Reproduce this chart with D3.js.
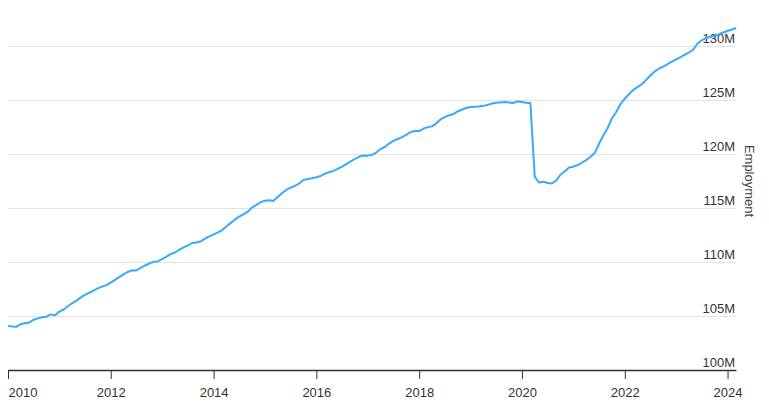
<!DOCTYPE html>
<html>
<head>
<meta charset="utf-8">
<script src="https://cdn.jsdelivr.net/npm/d3@7"></script>
<style>
  body { margin: 0; background: #fff; }
  svg { display: block; font-family: "Liberation Sans", Arial, Helvetica, sans-serif; }
</style>
</head>
<body>
<svg id="chart" width="769" height="415"></svg>
<script>
// monthly employment, millions (Jan..Dec)
const emp2010 = [104.07, 104.02, 104.00, 104.25, 104.33, 104.40, 104.65, 104.78, 104.88, 104.94, 105.15, 105.06];
const emp2011 = [105.42, 105.60, 105.88, 106.18, 106.40, 106.70, 106.95, 107.15, 107.36, 107.56, 107.72, 107.86];
const emp2012 = [108.10, 108.35, 108.60, 108.86, 109.08, 109.23, 109.22, 109.45, 109.68, 109.86, 110.03, 110.05];
const emp2013 = [110.28, 110.50, 110.73, 110.88, 111.12, 111.35, 111.52, 111.76, 111.80, 111.90, 112.16, 112.38];
const emp2014 = [112.56, 112.74, 112.93, 113.28, 113.60, 113.92, 114.20, 114.42, 114.66, 115.05, 115.30, 115.55];
const emp2015 = [115.68, 115.71, 115.65, 116.02, 116.36, 116.67, 116.88, 117.04, 117.27, 117.59, 117.69, 117.75];
const emp2016 = [117.85, 117.97, 118.17, 118.32, 118.43, 118.63, 118.84, 119.07, 119.31, 119.54, 119.77, 119.87];
const emp2017 = [119.85, 119.93, 120.14, 120.46, 120.65, 120.97, 121.22, 121.39, 121.57, 121.78, 122.04, 122.13];
const emp2018 = [122.13, 122.36, 122.47, 122.56, 122.82, 123.19, 123.43, 123.58, 123.70, 123.94, 124.12, 124.26];
const emp2019 = [124.35, 124.38, 124.41, 124.46, 124.54, 124.67, 124.74, 124.78, 124.81, 124.77, 124.72, 124.87];
const emp2020 = [124.81, 124.75, 124.70, 117.90, 117.36, 117.44, 117.31, 117.28, 117.55, 118.10, 118.40, 118.75];
const emp2021 = [118.83, 118.98, 119.19, 119.44, 119.72, 120.09, 120.93, 121.71, 122.41, 123.29, 123.89, 124.63];
const emp2022 = [125.14, 125.56, 125.93, 126.20, 126.46, 126.85, 127.27, 127.64, 127.92, 128.10, 128.33, 128.56];
const emp2023 = [128.77, 128.98, 129.19, 129.40, 129.65, 130.23, 130.53, 130.74, 130.83, 130.97, 131.09, 131.25];
const emp2024 = [131.39, 131.53, 131.67];

const years = [2010, 2011, 2012, 2013, 2014, 2015, 2016, 2017, 2018, 2019, 2020, 2021, 2022, 2023, 2024];
const yearly = [emp2010, emp2011, emp2012, emp2013, emp2014, emp2015, emp2016, emp2017, emp2018, emp2019, emp2020, emp2021, emp2022, emp2023, emp2024];

const xTickYears = [2010, 2012, 2014, 2016, 2018, 2020, 2022, 2024];
const yTicks = [100, 105, 110, 115, 120, 125, 130]; // millions

const data = [];
yearly.forEach((vals, i) => {
  vals.forEach((v, m) => data.push({ date: new Date(years[i], m, 1), value: v * 1e6 }));
});

const svg = d3.select('#chart');
const width = +svg.attr('width');
const height = +svg.attr('height');
const margin = { top: 28, right: 33, bottom: 45, left: 8 };

const x = d3.scaleTime()
  .domain(d3.extent(data, d => d.date))
  .range([margin.left, width - margin.right]);

const y = d3.scaleLinear()
  .domain([100e6, d3.max(data, d => d.value)])
  .range([height - margin.bottom, margin.top]);

// gridlines + y labels
const gy = svg.append('g');
gy.selectAll('line')
  .data(yTicks.slice(1))
  .join('line')
  .attr('x1', margin.left)
  .attr('x2', width - margin.right)
  .attr('y1', d => Math.round(y(d * 1e6)) + 0.5)
  .attr('y2', d => Math.round(y(d * 1e6)) + 0.5)
  .attr('stroke', '#e3e3e3');

gy.selectAll('text')
  .data(yTicks)
  .join('text')
  .attr('x', width - margin.right - 1)
  .attr('y', d => y(d * 1e6) - 3)
  .attr('text-anchor', 'end')
  .attr('font-size', 13)
  .attr('fill', '#333')
  .text(d => d + 'M');

// line
svg.append('path')
  .datum(data)
  .attr('fill', 'none')
  .attr('stroke', '#35aaff')
  .attr('stroke-width', 2)
  .attr('stroke-linejoin', 'round')
  .attr('d', d3.line().x(d => x(d.date)).y(d => y(d.value)));

// x axis
const xAxis = svg.append('g')
  .attr('transform', `translate(0,${height - margin.bottom})`)
  .call(d3.axisBottom(x)
    .tickValues(xTickYears.map(yr => new Date(yr, 0, 1)))
    .tickFormat(d3.timeFormat('%Y'))
    .tickSize(9)
    .tickSizeOuter(0)
    .tickPadding(9));

xAxis.select('.domain').attr('stroke', '#333').attr('stroke-width', 1.3);
xAxis.selectAll('.tick line').attr('stroke', '#333');
xAxis.selectAll('.tick text')
  .attr('font-size', 13)
  .attr('font-family', '"Liberation Sans", Arial, Helvetica, sans-serif')
  .attr('fill', '#333');
xAxis.select('.tick text').attr('text-anchor', 'start');

// axis title
svg.append('text')
  .attr('transform', `translate(${width - 24},181) rotate(90)`)
  .attr('text-anchor', 'middle')
  .attr('font-size', 13)
  .attr('fill', '#444')
  .text('Employment');
</script>
</body>
</html>
